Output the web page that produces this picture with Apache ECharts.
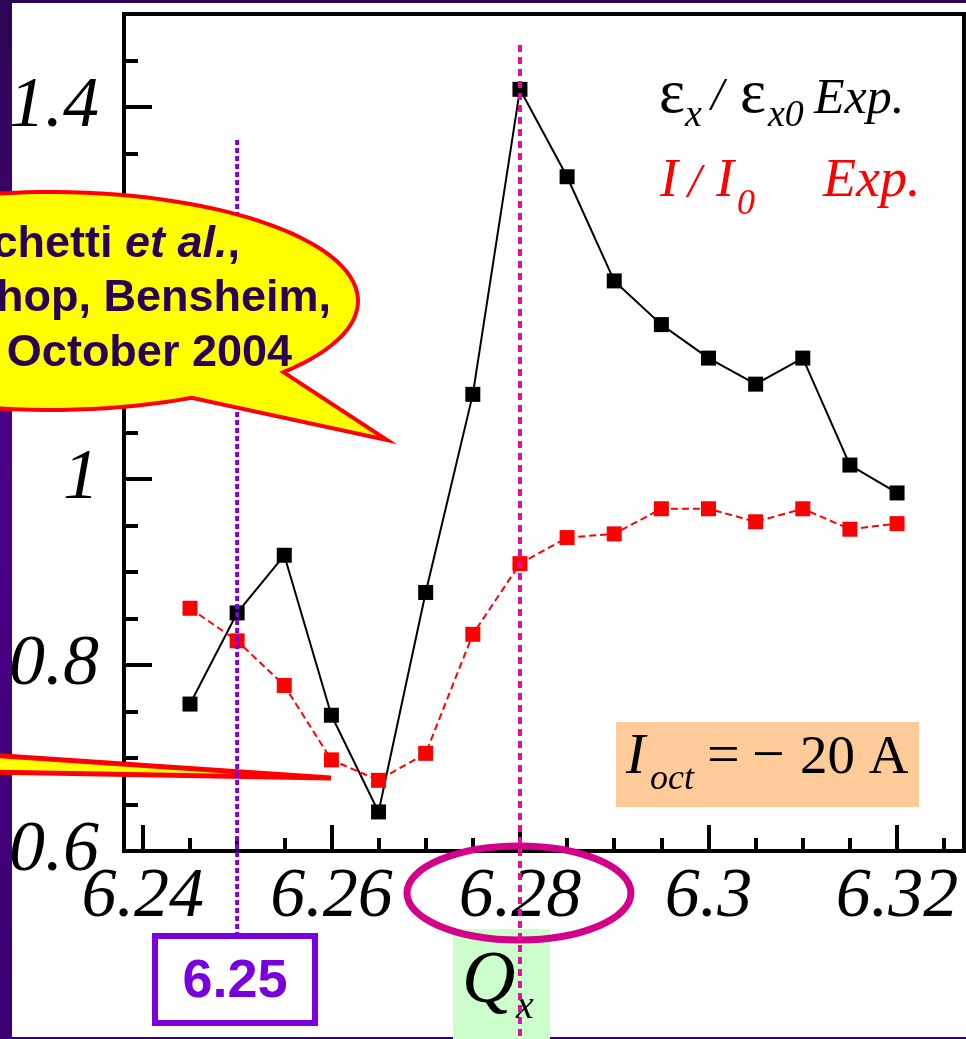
<!DOCTYPE html>
<html><head><meta charset="utf-8">
<script src="https://cdn.jsdelivr.net/npm/echarts@6/dist/echarts.min.js"></script>
<style>
html,body{margin:0;padding:0;}
body{width:966px;height:1039px;overflow:hidden;position:relative;
 background:linear-gradient(180deg,#2c0652 0%,#4a0088 45%,#3a0070 100%);}
#bg{position:absolute;left:12px;top:3px;width:954px;height:1034px;background:#fff;}
#chart{position:absolute;left:0;top:0;width:966px;height:1039px;}
</style></head><body><div id="bg"></div><div id="chart"></div>
<script>
// ---- data ----
const qx = [6.245, 6.25, 6.255, 6.26, 6.265, 6.27, 6.275, 6.28, 6.285, 6.29, 6.295, 6.30, 6.305, 6.31, 6.315, 6.32];
const emittanceRatio = [0.758, 0.856, 0.918, 0.746, 0.642, 0.878, 1.091, 1.419, 1.325, 1.213, 1.166, 1.130, 1.102, 1.130, 1.015, 0.985];
const intensityRatio = [0.861, 0.826, 0.778, 0.698, 0.676, 0.705, 0.833, 0.909, 0.937, 0.941, 0.968, 0.968, 0.954, 0.968, 0.946, 0.952];
const xTickValues = [6.24, 6.26, 6.28, 6.30, 6.32];
const xTickLabels = ['6.24', '6.26', '6.28', '6.3', '6.32'];
const xMinorTicks = [6.245, 6.25, 6.255, 6.265, 6.27, 6.275, 6.285, 6.29, 6.295, 6.305, 6.31, 6.315, 6.325];
const yTickValues = [0.6, 0.8, 1.0, 1.2, 1.4];
const yTickLabels = ['0.6', '0.8', '1', '1.2', '1.4'];
const yMinorTicks = [0.65, 0.7, 0.75, 0.85, 0.9, 0.95, 1.05, 1.1, 1.15, 1.25, 1.3, 1.35, 1.45];
const xRange = [6.238, 6.3271];
const yRange = [0.6, 1.5];
const resonanceQ = 6.25;
const workingQ = 6.28;
const resonanceLabel = '6.25';
const currentLabel = ['I', 'oct', '=', '\u2212', '20 A'];

const SERIF = '"Liberation Serif", "Times New Roman", serif';
const SANS = '"Liberation Sans", Arial, sans-serif';

function pick(vals, labels) {
  return function (v) {
    for (let i = 0; i < vals.length; i++) if (Math.abs(vals[i] - v) < 1e-6) return labels[i];
    return '';
  };
}

const chart = echarts.init(document.getElementById('chart'), null, {renderer: 'canvas'});
const tickStyle = {color: '#000', width: 4};
chart.setOption({
  animation: false,
  grid: {left: 124, right: 2, top: 14, bottom: 188, show: true, borderColor: '#000', borderWidth: 4, backgroundColor: 'transparent'},
  xAxis: [{
    type: 'value', min: xRange[0], max: xRange[1], position: 'bottom',
    axisLine: {show: true, lineStyle: {color: '#000', width: 4}},
    axisTick: {show: true, inside: true, length: 26, lineStyle: tickStyle, customValues: xTickValues},
    axisLabel: {show: true, customValues: xTickValues, formatter: pick(xTickValues, xTickLabels), margin: 12,
      fontFamily: SERIF, fontStyle: 'italic', fontSize: 70, color: '#000'},
    splitLine: {show: false}
  }, {
    type: 'value', min: xRange[0], max: xRange[1], position: 'bottom',
    axisLine: {show: false},
    axisTick: {show: true, inside: true, length: 13, lineStyle: tickStyle, customValues: xMinorTicks},
    axisLabel: {show: false}, splitLine: {show: false}
  }],
  yAxis: [{
    type: 'value', min: yRange[0], max: yRange[1], position: 'left',
    axisLine: {show: true, lineStyle: {color: '#000', width: 4}},
    axisTick: {show: true, inside: true, length: 28, lineStyle: tickStyle, customValues: yTickValues},
    axisLabel: {show: true, customValues: yTickValues, formatter: pick(yTickValues, yTickLabels), margin: 25,
      fontFamily: SERIF, fontStyle: 'italic', fontSize: 72, color: '#000'},
    splitLine: {show: false}
  }, {
    type: 'value', min: yRange[0], max: yRange[1], position: 'left',
    axisLine: {show: false},
    axisTick: {show: true, inside: true, length: 14, lineStyle: tickStyle, customValues: yMinorTicks},
    axisLabel: {show: false}, splitLine: {show: false}
  }],
  series: [{
    type: 'line', name: 'emittance', xAxisIndex: 0, yAxisIndex: 0,
    data: qx.map((x, i) => [x, emittanceRatio[i]]),
    symbol: 'rect', symbolSize: 15,
    itemStyle: {color: '#000'}, lineStyle: {color: '#000', width: 2}, z: 3
  }, {
    type: 'line', name: 'intensity', xAxisIndex: 0, yAxisIndex: 0,
    data: qx.map((x, i) => [x, intensityRatio[i]]),
    symbol: 'rect', symbolSize: 15,
    itemStyle: {color: '#ff0000'}, lineStyle: {color: '#ff0000', width: 2, type: [7, 4]}, z: 3
  }]
});

const xRes = chart.convertToPixel({xAxisIndex: 0}, resonanceQ);
const xWork = chart.convertToPixel({xAxisIndex: 0}, workingQ);

// callout bubble outline (annotation geometry)
const bub = {cx: 50, cy: 301, rx: 308, ry: 109};
const t1 = Math.atan2((372 - bub.cy) / bub.ry, (283 - bub.cx) / bub.rx);
const t2 = Math.atan2((398 - bub.cy) / bub.ry, (192 - bub.cx) / bub.rx);
const bubblePts = [];
for (let k = 0; k <= 120; k++) {
  const t = t2 + (t1 + 2 * Math.PI - t2) * k / 120;
  bubblePts.push([bub.cx + bub.rx * Math.cos(t), bub.cy + bub.ry * Math.sin(t)]);
}
bubblePts.push([387, 440]);

function txt(id, text, x, y, font, fill, align, z) {
  return {type: 'text', id: id, z: z || 20, style: {text: text, x: x, y: y, font: font, fill: fill,
    align: align || 'left', textAlign: align || 'left', verticalAlign: 'middle', textVerticalAlign: 'middle'}};
}
const bubbleColor = '#2a0050';
chart.setOption({
  graphic: {elements: [
    // lower callout tail
    {type: 'polygon', id: 'wedge', z: 10, shape: {points: [[-10, 755], [331, 778], [-10, 772]]},
      style: {fill: '#ffff00', stroke: '#ff0000', lineWidth: 5, lineJoin: 'bevel'}},
    // resonance line
    {type: 'line', id: 'resLine', z: 11, shape: {x1: xRes, y1: 140, x2: xRes, y2: 934},
      style: {stroke: '#7a00e0', lineWidth: 4, lineDash: [5, 3]}},
    // bubble
    {type: 'polygon', id: 'bubble', z: 12, shape: {points: bubblePts},
      style: {fill: '#ffff00', stroke: '#ff0000', lineWidth: 4, lineJoin: 'miter'}},
    {type: 'text', id: 'bt1', z: 13, style: {text: '{a|chetti }{b|et al.}{a|,}', x: 240, y: 245,
      align: 'right', textAlign: 'right', verticalAlign: 'middle', textVerticalAlign: 'middle',
      rich: {a: {fontFamily: SANS, fontWeight: 'bold', fontSize: 45, fill: bubbleColor, color: bubbleColor},
             b: {fontFamily: SANS, fontWeight: 'bold', fontStyle: 'italic', fontSize: 45, fill: bubbleColor, color: bubbleColor}}}},
    txt('bt2', 'hop, Bensheim,', 331, 299, 'bold 45px ' + SANS, bubbleColor, 'right', 13),
    txt('bt3', 'October 2004', 292, 354, 'bold 45px ' + SANS, bubbleColor, 'right', 13),
    // green Qx box
    {type: 'rect', id: 'qbox', z: 8, shape: {x: 453, y: 929, width: 97, height: 112}, style: {fill: '#ccffcc'}},
    txt('q', 'Q', 462, 983, 'italic 74px ' + SERIF, '#000', 'left', 9),
    txt('qsub', 'x', 516, 1007, 'italic 40px ' + SERIF, '#000', 'left', 9),
    // ellipse round 6.28
    {type: 'ellipse', id: 'ell', z: 14, shape: {cx: xWork - 1, cy: 893, rx: 112, ry: 47},
      style: {fill: 'none', stroke: '#d4008a', lineWidth: 7}},
    // working point line
    {type: 'line', id: 'workLine', z: 15, shape: {x1: xWork, y1: 45, x2: xWork, y2: 1040},
      style: {stroke: '#e0109a', lineWidth: 4, lineDash: [7, 5]}},
    // 6.25 box
    {type: 'rect', id: 'resBox', z: 12, shape: {x: 155, y: 936, width: 160, height: 87},
      style: {fill: '#fff', stroke: '#7a00e0', lineWidth: 6}},
    txt('resTxt', resonanceLabel, 235, 982, 'bold 54px ' + SANS, '#7700dd', 'center', 13),
    // orange current box
    {type: 'rect', id: 'ibox', z: 8, shape: {x: 616, y: 722, width: 303, height: 85}, style: {fill: '#ffcc99'}},
    txt('i1', currentLabel[0], 626, 758, 'italic 58px ' + SERIF, '#000', 'left', 9),
    txt('i2', currentLabel[1], 650, 780, 'italic 36px ' + SERIF, '#000', 'left', 9),
    txt('i3', currentLabel[2], 707, 758, '58px ' + SERIF, '#000', 'left', 9),
    txt('i4', currentLabel[3], 752, 758, '58px ' + SERIF, '#000', 'left', 9),
    txt('i5', currentLabel[4], 800, 759, '55px ' + SERIF, '#000', 'left', 9),
    // legend texts
    txt('l1a', '\u03b5', 659, 96, '62px ' + SERIF, '#000'),
    txt('l1b', 'x', 685, 116, 'italic 38px ' + SERIF, '#000'),
    txt('l1c', '/', 711, 98, 'italic 46px ' + SERIF, '#000'),
    txt('l1d', '\u03b5', 740, 96, '62px ' + SERIF, '#000'),
    txt('l1e', 'x0', 768, 116, 'italic 38px ' + SERIF, '#000'),
    txt('l1f', 'Exp.', 814, 100, 'italic 50px ' + SERIF, '#000'),
    txt('l2a', 'I', 660, 182, 'italic 54px ' + SERIF, '#ff0000'),
    txt('l2b', '/', 688, 184, 'italic 48px ' + SERIF, '#ff0000'),
    txt('l2c', 'I', 716, 182, 'italic 54px ' + SERIF, '#ff0000'),
    txt('l2d', '0', 737, 205, 'italic 36px ' + SERIF, '#ff0000'),
    txt('l2e', 'Exp.', 823, 182, 'italic 54px ' + SERIF, '#ff0000')
  ]}
});
</script></body></html>
